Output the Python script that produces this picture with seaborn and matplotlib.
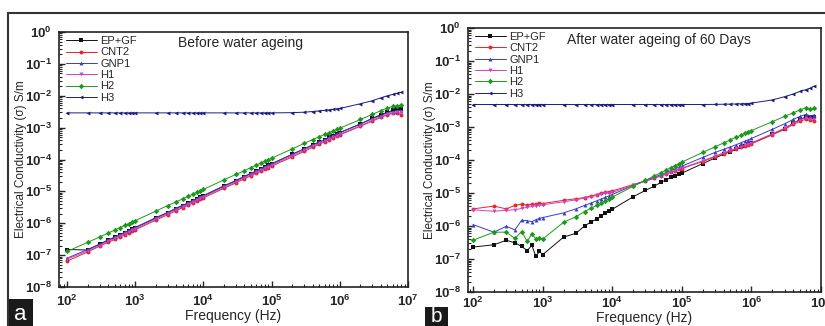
import math
import matplotlib
matplotlib.use("Agg")
import matplotlib.pyplot as plt
import matplotlib.ticker as mticker
from matplotlib.lines import Line2D
from matplotlib.patches import Rectangle
from matplotlib import font_manager
import seaborn as sns

sns.set_style("ticks")
plt.rcParams["font.family"] = ["Liberation Sans", "DejaVu Sans"]
plt.rcParams["mathtext.fontset"] = "custom"
plt.rcParams["mathtext.bf"] = "Liberation Sans:bold"
plt.rcParams["mathtext.rm"] = "Liberation Sans"

# narrow face for the rotated y label, if it is there
installed = {f.name for f in font_manager.fontManager.ttflist}
ylab_family = ["Liberation Sans Narrow", "DejaVu Sans"] if "Liberation Sans Narrow" in installed \
    else ["Liberation Sans", "DejaVu Sans"]
ylab_size = 10 if "Liberation Sans Narrow" in installed else 8.5

# frequencies (Hz)
freq = [100, 200, 300, 400, 500, 600, 700, 800, 900,
        1e3, 2e3, 3e3, 4e3, 5e3, 6e3, 7e3, 8e3, 9e3,
        1e4, 2e4, 3e4, 4e4, 5e4, 6e4, 7e4, 8e4, 9e4,
        1e5, 2e5, 3e5, 4e5, 5e5, 6e5, 7e5, 8e5, 9e5,
        1e6, 2e6, 3e6, 4e6, 5e6, 6e6, 7e6, 8e6]

labels = ["EP+GF", "CNT2", "GNP1", "H1", "H2", "H3"]

# ---- panel a : before water ageing ----
a_epgf = [1.5e-7, 1.45e-7, 2.2e-7, 2.9e-7, 3.6e-7, 4.3e-7, 5.0e-7, 5.8e-7, 6.5e-7,
          7.2e-7, 1.45e-6, 2.15e-6, 2.9e-6, 3.6e-6, 4.3e-6, 5.0e-6, 5.8e-6, 6.5e-6,
          7.2e-6, 1.45e-5, 2.15e-5, 2.9e-5, 3.6e-5, 4.3e-5, 5.0e-5, 5.8e-5, 6.5e-5,
          7.2e-5, 1.45e-4, 2.15e-4, 2.85e-4, 3.5e-4, 4.2e-4, 4.9e-4, 5.6e-4, 6.3e-4,
          7.0e-4, 1.3e-3, 1.95e-3, 2.55e-3, 3.05e-3, 3.45e-3, 3.75e-3, 3.8e-3]
a_cnt2 = [6.5e-8, 1.25e-7, 1.9e-7, 2.5e-7, 3.1e-7, 3.7e-7, 4.3e-7, 5.0e-7, 5.6e-7,
          6.2e-7, 1.25e-6, 1.85e-6, 2.5e-6, 3.1e-6, 3.7e-6, 4.3e-6, 5.0e-6, 5.6e-6,
          6.2e-6, 1.25e-5, 1.85e-5, 2.5e-5, 3.1e-5, 3.7e-5, 4.3e-5, 5.0e-5, 5.6e-5,
          6.2e-5, 1.2e-4, 1.8e-4, 2.4e-4, 3.0e-4, 3.6e-4, 4.2e-4, 4.8e-4, 5.3e-4,
          5.9e-4, 1.1e-3, 1.6e-3, 2.1e-3, 2.5e-3, 2.8e-3, 2.8e-3, 2.5e-3]
a_gnp1 = [8.0e-8, 1.5e-7, 2.2e-7, 3.0e-7, 3.7e-7, 4.4e-7, 5.2e-7, 5.9e-7, 6.7e-7,
          7.4e-7, 1.5e-6, 2.2e-6, 3.0e-6, 3.7e-6, 4.4e-6, 5.2e-6, 5.9e-6, 6.7e-6,
          7.4e-6, 1.5e-5, 2.2e-5, 3.0e-5, 3.7e-5, 4.4e-5, 5.2e-5, 5.9e-5, 6.7e-5,
          7.4e-5, 1.45e-4, 2.15e-4, 2.85e-4, 3.5e-4, 4.2e-4, 4.9e-4, 5.6e-4, 6.3e-4,
          6.9e-4, 1.3e-3, 1.9e-3, 2.4e-3, 2.9e-3, 3.2e-3, 3.4e-3, 3.4e-3]
a_h1 = [7.5e-8, 1.35e-7, 2.0e-7, 2.7e-7, 3.35e-7, 4.0e-7, 4.7e-7, 5.4e-7, 6.0e-7,
        6.7e-7, 1.35e-6, 2.0e-6, 2.7e-6, 3.35e-6, 4.0e-6, 4.7e-6, 5.4e-6, 6.0e-6,
        6.7e-6, 1.35e-5, 2.0e-5, 2.7e-5, 3.35e-5, 4.0e-5, 4.7e-5, 5.4e-5, 6.0e-5,
        6.7e-5, 1.3e-4, 1.95e-4, 2.6e-4, 3.2e-4, 3.8e-4, 4.4e-4, 5.0e-4, 5.6e-4,
        6.2e-4, 1.15e-3, 1.7e-3, 2.2e-3, 2.6e-3, 2.9e-3, 3.1e-3, 3.0e-3]
a_h2 = [1.3e-7, 2.5e-7, 3.7e-7, 4.9e-7, 6.1e-7, 7.3e-7, 8.5e-7, 9.7e-7, 1.1e-6,
        1.2e-6, 2.4e-6, 3.6e-6, 4.7e-6, 5.9e-6, 7.0e-6, 8.2e-6, 9.3e-6, 1.05e-5,
        1.15e-5, 2.3e-5, 3.4e-5, 4.5e-5, 5.6e-5, 6.7e-5, 7.8e-5, 8.9e-5, 1.0e-4,
        1.1e-4, 2.15e-4, 3.2e-4, 4.2e-4, 5.2e-4, 6.1e-4, 7.0e-4, 7.9e-4, 8.8e-4,
        9.6e-4, 1.8e-3, 2.6e-3, 3.4e-3, 4.1e-3, 4.6e-3, 4.9e-3, 5.0e-3]
a_h3 = [2.9e-3, 2.9e-3, 2.9e-3, 2.9e-3, 2.9e-3, 2.9e-3, 2.9e-3, 2.9e-3, 2.9e-3,
        2.9e-3, 2.9e-3, 2.9e-3, 2.9e-3, 2.9e-3, 2.9e-3, 2.9e-3, 2.9e-3, 2.9e-3,
        2.9e-3, 2.9e-3, 2.9e-3, 2.9e-3, 2.9e-3, 2.9e-3, 2.9e-3, 2.9e-3, 2.9e-3,
        2.9e-3, 2.95e-3, 3.05e-3, 3.2e-3, 3.35e-3, 3.5e-3, 3.6e-3, 3.75e-3, 3.9e-3,
        4.0e-3, 5.6e-3, 7.0e-3, 8.6e-3, 1.0e-2, 1.1e-2, 1.2e-2, 1.3e-2]

# ---- panel b : after water ageing of 60 days ----
b_epgf = [2.3e-7, 2.7e-7, 3.7e-7, 3.1e-7, 2.4e-7, 1.8e-7, 2.6e-7, 1.2e-7, 1.7e-7,
          1.35e-7, 4.6e-7, 6.0e-7, 1.0e-6, 1.35e-6, 1.6e-6, 2.0e-6, 2.5e-6, 2.9e-6,
          3.2e-6, 7.7e-6, 1.2e-5, 1.6e-5, 2.1e-5, 2.5e-5, 3.0e-5, 3.3e-5, 3.7e-5,
          4.0e-5, 7.8e-5, 1.15e-4, 1.5e-4, 1.8e-4, 2.1e-4, 2.4e-4, 2.7e-4, 3.0e-4,
          3.2e-4, 6.0e-4, 9.0e-4, 1.3e-3, 1.7e-3, 2.0e-3, 2.0e-3, 2.0e-3]
b_cnt2 = [3.3e-6, 4.0e-6, 3.3e-6, 4.2e-6, 4.6e-6, 4.3e-6, 4.6e-6, 4.6e-6, 4.9e-6,
          4.8e-6, 6.0e-6, 6.7e-6, 7.3e-6, 8.2e-6, 9.0e-6, 1.0e-5, 1.05e-5, 1.1e-5,
          1.15e-5, 1.8e-5, 2.3e-5, 2.8e-5, 3.3e-5, 3.8e-5, 4.3e-5, 4.8e-5, 5.2e-5,
          5.5e-5, 9.0e-5, 1.25e-4, 1.55e-4, 1.85e-4, 2.15e-4, 2.45e-4, 2.7e-4, 2.9e-4,
          3.1e-4, 5.8e-4, 8.5e-4, 1.2e-3, 1.5e-3, 1.7e-3, 1.6e-3, 1.55e-3]
b_gnp1 = [1.1e-6, 6.5e-7, 9.8e-7, 7.6e-7, 1.5e-6, 1.45e-6, 1.35e-6, 1.55e-6, 1.7e-6,
          1.8e-6, 2.5e-6, 3.3e-6, 4.2e-6, 5.0e-6, 5.8e-6, 6.6e-6, 7.4e-6, 8.2e-6,
          9.0e-6, 1.7e-5, 2.4e-5, 3.0e-5, 3.6e-5, 4.2e-5, 4.8e-5, 5.4e-5, 6.0e-5,
          6.5e-5, 1.2e-4, 1.7e-4, 2.1e-4, 2.5e-4, 2.9e-4, 3.3e-4, 3.7e-4, 4.1e-4,
          4.5e-4, 8.5e-4, 1.25e-3, 1.7e-3, 2.1e-3, 2.4e-3, 2.2e-3, 2.3e-3]
b_h1 = [3.1e-6, 2.8e-6, 3.0e-6, 3.1e-6, 3.4e-6, 3.7e-6, 3.9e-6, 4.1e-6, 4.3e-6,
        4.4e-6, 5.4e-6, 6.2e-6, 7.0e-6, 7.8e-6, 8.5e-6, 9.2e-6, 9.8e-6, 1.02e-5,
        1.05e-5, 1.7e-5, 2.3e-5, 2.8e-5, 3.3e-5, 3.8e-5, 4.3e-5, 4.8e-5, 5.3e-5,
        5.7e-5, 9.5e-5, 1.3e-4, 1.65e-4, 1.95e-4, 2.25e-4, 2.55e-4, 2.8e-4, 3.05e-4,
        3.3e-4, 6.2e-4, 9.2e-4, 1.3e-3, 1.6e-3, 1.9e-3, 1.75e-3, 1.7e-3]
b_h2 = [3.7e-7, 6.5e-7, 6.5e-7, 4.2e-7, 6.8e-7, 3.4e-7, 5.8e-7, 4.1e-7, 4.4e-7,
        4.0e-7, 1.3e-6, 1.9e-6, 2.7e-6, 3.5e-6, 4.2e-6, 5.0e-6, 5.8e-6, 6.6e-6,
        7.5e-6, 1.6e-5, 2.4e-5, 3.3e-5, 4.1e-5, 5.0e-5, 5.9e-5, 6.8e-5, 7.7e-5,
        8.6e-5, 1.7e-4, 2.5e-4, 3.3e-4, 4.1e-4, 4.9e-4, 5.6e-4, 6.4e-4, 7.1e-4,
        7.8e-4, 1.45e-3, 2.1e-3, 2.7e-3, 3.3e-3, 3.8e-3, 3.6e-3, 3.7e-3]
b_h3 = [4.8e-3, 4.8e-3, 4.8e-3, 4.8e-3, 4.8e-3, 4.8e-3, 4.8e-3, 4.8e-3, 4.8e-3,
        4.8e-3, 4.8e-3, 4.8e-3, 4.8e-3, 4.8e-3, 4.8e-3, 4.8e-3, 4.8e-3, 4.8e-3,
        4.8e-3, 4.8e-3, 4.8e-3, 4.8e-3, 4.8e-3, 4.8e-3, 4.8e-3, 4.8e-3, 4.8e-3,
        4.8e-3, 4.8e-3, 4.85e-3, 4.9e-3, 4.95e-3, 5.0e-3, 5.05e-3, 5.1e-3, 5.15e-3,
        5.3e-3, 6.6e-3, 8.3e-3, 1.0e-2, 1.2e-2, 1.35e-2, 1.5e-2, 1.75e-2]

colors = ["#111111", "#ee2222", "#3a3ad0", "#d040c0", "#1a9a1a", "#1c1c80"]
markers = ["s", "o", "^", "v", "D", "<"]

fig = plt.figure(figsize=(8.25, 3.26), dpi=100)
ax_a = fig.add_axes([59 / 825, 39 / 326, 349 / 825, 255 / 326])
ax_b = fig.add_axes([468 / 825, 34 / 326, 353 / 825, 264 / 326])


def log_label(v, pos):
    return r"$\mathbf{10^{%d}}$" % round(math.log10(v))


def panel(ax, series, title, title_x, xmin, ylab_x, xtick_pad, xlab_pad):
    for lab, vals, c, m in zip(labels, series, colors, markers):
        sns.lineplot(x=freq, y=vals, ax=ax, color=c, marker=m, markersize=2.8,
                     markeredgewidth=0, linewidth=0.7, label=lab)
    ax.set_xscale("log")
    ax.set_yscale("log")
    ax.set_xlim(xmin, 1e7)
    ax.set_ylim(1e-8, 1)
    ax.yaxis.set_major_locator(mticker.LogLocator(base=10, numticks=12))
    ax.xaxis.set_major_locator(mticker.LogLocator(base=10, numticks=12))
    ax.yaxis.set_minor_locator(mticker.LogLocator(base=10, subs=range(2, 10), numticks=12))
    ax.xaxis.set_major_formatter(mticker.FuncFormatter(log_label))
    ax.yaxis.set_major_formatter(mticker.FuncFormatter(log_label))
    ax.yaxis.set_minor_formatter(mticker.NullFormatter())
    ax.tick_params(which="both", direction="in", labelsize=9.5, top=False, right=False)
    ax.tick_params(which="major", length=4, width=1, pad=5)
    ax.tick_params(which="minor", length=2.5, width=0.8)
    ax.tick_params(axis="x", which="major", pad=xtick_pad)
    for s in ax.spines.values():
        s.set_linewidth(1.2)
        s.set_color("#222222")
    ax.set_xlabel("Frequency (Hz)", fontsize=10, labelpad=xlab_pad)
    ax.set_ylabel("Electrical Conductivity (σ) S/m", fontsize=ylab_size, family=ylab_family)
    ax.yaxis.set_label_coords(ylab_x, 0.5)
    ax.text(title_x, 0.955, title, transform=ax.transAxes, ha="center", va="center", fontsize=10)
    ax.legend(loc="upper left", frameon=False, fontsize=8, handlelength=2.8,
              labelspacing=0.12, borderaxespad=0.2, handletextpad=0.3,
              bbox_to_anchor=(0.0, 1.01))


panel(ax_a, [a_epgf, a_cnt2, a_gnp1, a_h1, a_h2, a_h3], "Before water ageing",
      0.52, 76.4, -0.092, 5, 0)
panel(ax_b, [b_epgf, b_cnt2, b_gnp1, b_h1, b_h2, b_h3], "After water ageing of 60 Days",
      0.54, 84.7, -0.092, 3, -0.5)

# outer frame lines of the figure
fig.add_artist(Line2D([8 / 825, 1], [1 - 13 / 326, 1 - 13 / 326], color="#333333", lw=1.5))
fig.add_artist(Line2D([8 / 825, 8 / 825], [0, 1 - 13 / 326], color="#333333", lw=1.5))

# panel letters on dark boxes
fig.add_artist(Rectangle((7 / 825, 0), 26 / 825, 27 / 326, transform=fig.transFigure,
                         fc="#1a1a1a", ec="none"))
fig.text(20 / 825, 12 / 326, "a", color="white", fontsize=16, ha="center", va="center")
fig.add_artist(Rectangle((425 / 825, 0), 23 / 825, 19 / 326, transform=fig.transFigure,
                         fc="#1a1a1a", ec="none"))
fig.text(436.5 / 825, 9 / 326, "b", color="white", fontsize=15, ha="center", va="center")

fig.savefig("out.png", dpi=100)
